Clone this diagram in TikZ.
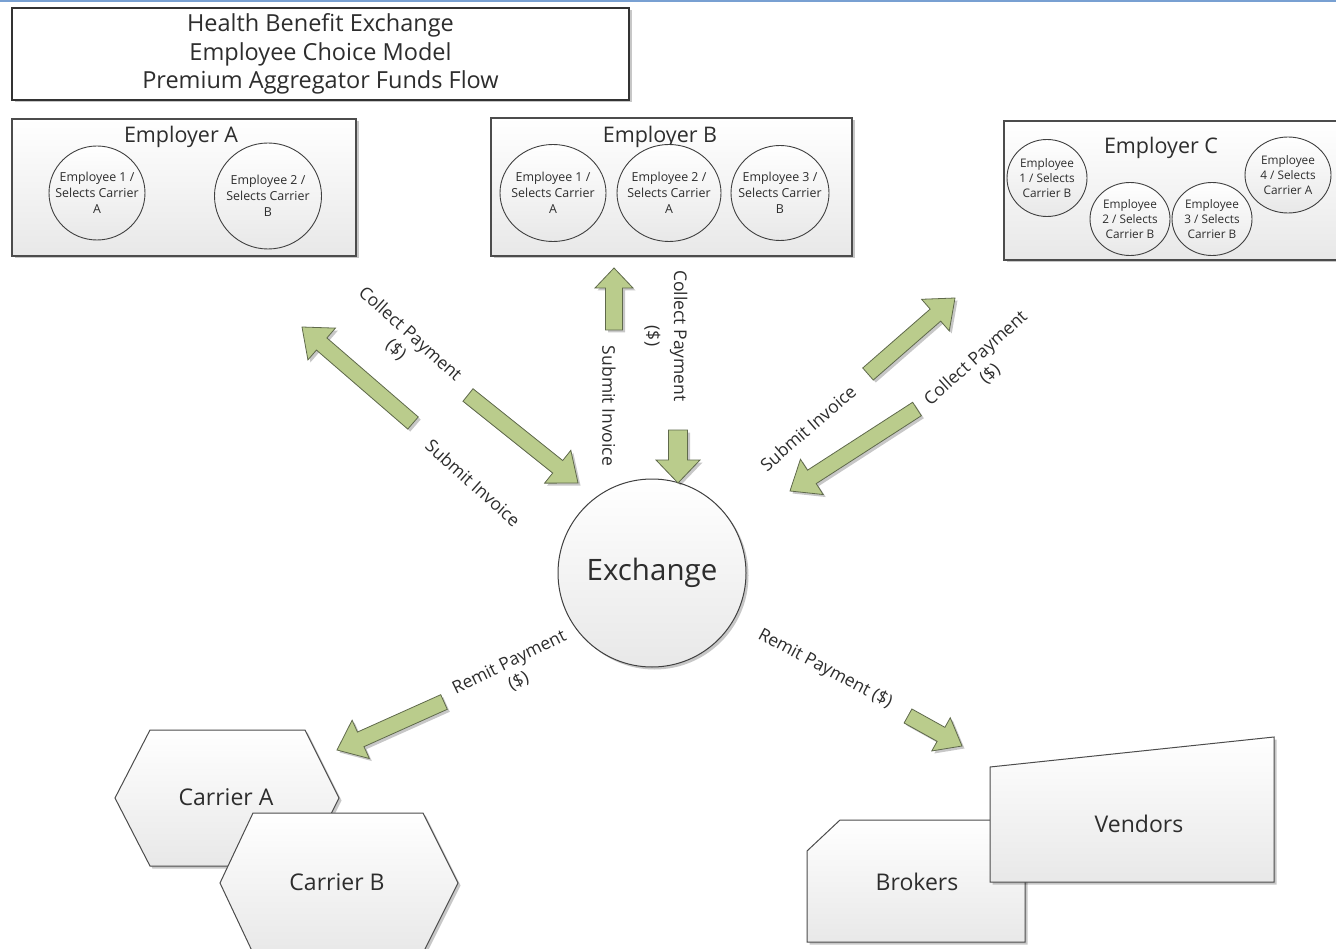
\documentclass[tikz,border=0pt]{standalone}
\usepackage{fontspec}
\setmainfont{Open Sans}
\usetikzlibrary{calc,shadows,shapes.geometric}
\definecolor{arrgreen}{RGB}{186,204,140}
\definecolor{arredge}{RGB}{95,105,75}
\definecolor{topblue}{RGB}{120,160,210}
\definecolor{txt}{RGB}{45,45,45}
\newcommand\blockarr[5]{%
  \coordinate (ba-c) at ($(#2)!#5!(#1)$);
  \draw[blockarrow] ($(#1)!#3!90:(#2)$) -- ($(ba-c)!#3!90:(#2)$) -- ($(ba-c)!#4!90:(#2)$) -- (#2)
     -- ($(ba-c)!#4!-90:(#2)$) -- ($(ba-c)!#3!-90:(#2)$) -- ($(#1)!#3!-90:(#2)$) -- cycle;
}
\begin{document}
\begin{tikzpicture}[x=1pt,y=-1pt,
  shadowed/.style={preaction={fill=black,opacity=0.22,transform canvas={xshift=2.5pt,yshift=-2.5pt}}},
  grayfill/.style={top color=white,bottom color=black!9},
  empbox/.style={draw=black!70,line width=1.2pt,grayfill,shadowed,rectangle,inner sep=0},
  emptitle/.style={font=\fontsize{21.5}{24}\selectfont,text=txt},
  emp/.style={ellipse,draw=black!75,line width=0.9pt,grayfill,inner sep=0},
  emptxt/.style={align=center,inner sep=0,font=\fontsize{12.4}{16}\selectfont,text=txt},
  empctxt/.style={emptxt,font=\fontsize{11.8}{15}\selectfont},
  blockarrow/.style={fill=arrgreen,draw=arredge,line width=0.8pt,line join=miter,shadowed},
  lbl/.style={font=\fontsize{17.5}{21}\selectfont,text=txt,align=center,inner sep=1pt},
  shapefill/.style={draw=black!70,line width=1pt,grayfill,shadowed},
  shapetxt/.style={font=\fontsize{23}{26}\selectfont,text=txt}
]
\useasboundingbox (0,0) rectangle (1336,949);
\fill[white] (0,0) rectangle (1336,949);
\draw[topblue,line width=1.5pt] (0,1) -- (1336,1);

% title
\node[draw=black!80,line width=1.8pt,fill=white,shadowed,minimum width=617,minimum height=92,
  align=center,font=\fontsize{23.5}{28.5}\selectfont,text=txt] (title) at (320.5,54)
  {Health Benefit Exchange\\Employee Choice Model\\Premium Aggregator Funds Flow};

% Employer A
\node[empbox,minimum width=344,minimum height=137] (empA) at (184,187.5) {};
\node[emptitle] (empAt) at (181,137) {Employer A};
\node[emp,minimum width=96,minimum height=94] (a1) at (97,193) {};
\node[emptxt] (a1t) at (a1) {Employee 1 /\\Selects Carrier\\A};
\node[emp,minimum width=107,minimum height=106] (a2) at (268,196) {};
\node[emptxt] (a2t) at (a2) {Employee 2 /\\Selects Carrier\\B};

% Employer B
\node[empbox,minimum width=361,minimum height=138] (empB) at (671.5,187) {};
\node[emptitle] (empBt) at (660,137) {Employer B};
\node[emp,minimum width=106,minimum height=97] (b1) at (553,193) {};
\node[emptxt] (b1t) at (b1) {Employee 1 /\\Selects Carrier\\A};
\node[emp,minimum width=104,minimum height=97] (b2) at (669,193) {};
\node[emptxt] (b2t) at (b2) {Employee 2 /\\Selects Carrier\\A};
\node[emp,minimum width=98,minimum height=95] (b3) at (780,193) {};
\node[emptxt] (b3t) at (b3) {Employee 3 /\\Selects Carrier\\B};

% Employer C
\node[empbox,minimum width=341,minimum height=139] (empC) at (1174.5,190.5) {};
\node[emptitle] (empCt) at (1161,148) {Employer C};
\node[emp,minimum width=80,minimum height=77] (c1) at (1047,178) {};
\node[empctxt] (c1t) at (c1) {Employee\\1 / Selects\\Carrier B};
\node[emp,minimum width=80,minimum height=73] (c2) at (1130,219) {};
\node[empctxt] (c2t) at (c2) {Employee\\2 / Selects\\Carrier B};
\node[emp,minimum width=80,minimum height=73] (c3) at (1212,219) {};
\node[empctxt] (c3t) at (c3) {Employee\\3 / Selects\\Carrier B};
\node[emp,minimum width=86,minimum height=76] (c4) at (1288,175) {};
\node[empctxt] (c4t) at (c4) {Employee\\4 / Selects\\Carrier A};

% Exchange
\node[circle,draw=black!75,line width=1pt,grayfill,shadowed,minimum size=188,inner sep=0,
  font=\fontsize{29.5}{32}\selectfont,text=txt] (ex) at (652,573) {Exchange};

% arrows coordinates
\coordinate (aAt) at (413,423); \coordinate (aAh) at (302,327);
\coordinate (aBt) at (468,395); \coordinate (aBh) at (578,483);
\coordinate (bAt) at (614,330); \coordinate (bAh) at (614,268);
\coordinate (bBt) at (678,430); \coordinate (bBh) at (678,483);
\coordinate (cAt) at (868,374); \coordinate (cAh) at (955,298);
\coordinate (cBt) at (917,409); \coordinate (cBh) at (790,491);
\coordinate (dAt) at (444,702); \coordinate (dAh) at (337,750);
\coordinate (dBt) at (908,716); \coordinate (dBh) at (962,746);

\blockarr{aAt}{aAh}{8pt}{21pt}{26pt}
\blockarr{aBt}{aBh}{8pt}{21pt}{26pt}
\blockarr{bAt}{bAh}{8.5pt}{19pt}{20pt}
\blockarr{bBt}{bBh}{9.5pt}{22pt}{23pt}
\blockarr{cAt}{cAh}{8pt}{21pt}{26pt}
\blockarr{cBt}{cBh}{8pt}{21pt}{26pt}
\blockarr{dAt}{dAh}{8pt}{21pt}{26pt}
\blockarr{dBt}{dBh}{8pt}{19pt}{24pt}

% arrow labels
\node[lbl,rotate=-42] (lA1) at (403,342) {Collect Payment\\(\$)};
\node[lbl,rotate=-42] (lA2) at (473,483) {Submit Invoice};
\node[lbl,rotate=-90] (lB1) at (609,406) {Submit Invoice};
\node[lbl,rotate=-90] (lB2) at (666,336) {Collect Payment\\[6pt](\$)};
\node[lbl,rotate=41] (lC1) at (808,428) {Submit Invoice};
\node[lbl,rotate=42] (lC2) at (983,366) {Collect Payment\\(\$)};
\node[lbl,rotate=26] (lD1) at (514,672) {Remit Payment\\(\$)};
\node[lbl,rotate=-28] (lD2) at (825,669) {Remit Payment (\$)};

% carriers
\draw[shapefill] (115,798) -- (150,730) -- (305,730) -- (339,798) -- (305,866) -- (150,866) -- cycle;
\node[shapetxt] (carA) at (226,797) {Carrier A};
\draw[shapefill] (220,883) -- (253,813) -- (423,813) -- (458,883) -- (423,953) -- (253,953) -- cycle;
\node[shapetxt] (carB) at (337,882) {Carrier B};

% brokers & vendors
\draw[shapefill] (807,851) -- (840,820) -- (1025,820) -- (1025,942) -- (807,942) -- cycle;
\node[shapetxt] (brok) at (917,882) {Brokers};
\draw[shapefill] (990,767) -- (1274,737) -- (1274,882) -- (990,882) -- cycle;
\node[shapetxt] (vend) at (1139,824) {Vendors};
\end{tikzpicture}
\end{document}
